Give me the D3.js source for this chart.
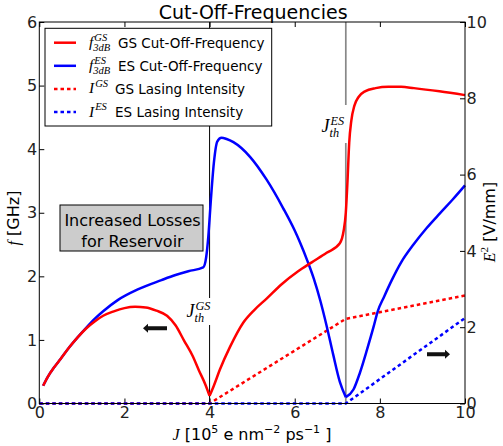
<!DOCTYPE html>
<html><head><meta charset="utf-8">
<script src="https://cdn.jsdelivr.net/npm/d3@7"></script>
<style>
html,body{margin:0;padding:0;background:#fff;}
svg{display:block;}
</style>
</head><body>
<svg id="chart" width="503" height="446"></svg>
<script>
// ---- data ----
const J_GS = [0.09,0.2,0.35,0.5,0.7,0.9,1.1,1.3,1.5,1.75,2.0,2.25,2.5,2.75,3.0,3.2,3.4,3.6,3.75,3.9,4.0,4.1,4.24,4.48,4.79,5.05,5.34,5.7,6.08,6.4,6.75,7.06,7.15,7.2,7.24,7.28,7.33,7.4,7.5,7.65,7.9,8.2,8.5,8.8,9.4,10.0];
const F_GS = [0.28,0.42,0.57,0.70,0.88,1.04,1.18,1.29,1.38,1.45,1.50,1.52,1.51,1.46,1.38,1.23,0.99,0.75,0.52,0.30,0.12,0.28,0.53,0.89,1.27,1.47,1.65,1.88,2.08,2.22,2.37,2.52,2.72,3.00,3.50,4.10,4.45,4.68,4.82,4.91,4.96,4.98,4.98,4.96,4.91,4.85];
const J_ES = [0.09,0.2,0.35,0.5,0.7,0.9,1.1,1.3,1.5,1.85,2.3,2.87,3.2,3.5,3.85,3.92,3.97,4.03,4.1,4.18,4.28,4.4,4.56,4.95,5.34,5.73,6.0,6.12,6.3,6.45,6.6,6.75,6.9,7.06,7.2,7.38,7.53,7.7,7.85,7.95,8.1,8.28,8.5,8.79,9.1,9.41,9.7,10.0];
const F_ES = [0.28,0.42,0.57,0.70,0.88,1.04,1.19,1.33,1.45,1.63,1.79,1.94,2.02,2.08,2.14,2.30,2.62,3.20,3.78,4.12,4.18,4.16,4.11,3.88,3.52,3.07,2.72,2.54,2.24,1.96,1.62,1.22,0.78,0.34,0.10,0.22,0.48,0.85,1.20,1.45,1.68,1.94,2.22,2.50,2.76,2.99,3.20,3.43];
const J_IGS = [0,4.0,7.2,10.0];
const E_IGS = [0,0,2.22,2.83];
const J_IES = [0,7.2,10.0];
const E_IES = [0,0,2.24];
const J_TH = [4.0, 7.2];
const xTicks = [0,2,4,6,8,10];
const yLTicks = [0,1,2,3,4,5,6];
const yRTicks = [0,2,4,6,8,10];

// ---- layout ----
const svg = d3.select("#chart");
const L = 39.3, R = 465, T = 22, B = 403.5;
const sans = "'DejaVu Sans', sans-serif";
const serif = "'Liberation Serif', 'DejaVu Serif', serif";
const x = d3.scaleLinear().domain([0,10]).range([L,R]);
const yL = d3.scaleLinear().domain([0,6]).range([B,T]);
const yR = d3.scaleLinear().domain([0,10]).range([B,T]);

// title
svg.append("text").attr("x",(L+R)/2+1).attr("y",19).attr("text-anchor","middle")
  .attr("font-family",sans).attr("font-size",19).text("Cut-Off-Frequencies");

// axes
function styleAxis(g){
  g.select(".domain").remove();
  g.selectAll(".tick line").attr("stroke","#000").attr("stroke-width",1);
  g.selectAll(".tick text").attr("font-family",sans).attr("font-size",16).attr("fill","#222");
}
svg.append("g").attr("transform",`translate(0,${B})`)
  .call(d3.axisBottom(x).tickValues(xTicks).tickSize(-5).tickPadding(3.4).tickFormat(d3.format("d"))).call(styleAxis);
svg.append("g").attr("transform",`translate(0,${T})`)
  .call(d3.axisTop(x).tickValues(xTicks).tickSize(-5).tickFormat("")).call(styleAxis);
svg.append("g").attr("transform",`translate(${L},0)`)
  .call(d3.axisLeft(yL).tickValues(yLTicks).tickSize(-5).tickPadding(2).tickFormat(d3.format("d"))).call(styleAxis);
svg.append("g").attr("transform",`translate(${R},0)`)
  .call(d3.axisRight(yR).tickValues(yRTicks).tickSize(-5).tickPadding(1.5).tickFormat(d3.format("d"))).call(styleAxis);

// threshold lines
const thColors = ["#000","#888"];
const thWidths = [1,1.7];
J_TH.forEach((j,i)=>{
  svg.append("line").attr("x1",x(j)).attr("x2",x(j)).attr("y1",T).attr("y2",B)
    .attr("stroke",thColors[i]).attr("stroke-width",thWidths[i]);
});

// math label helper: base italic with sup and sub
function mathLabel(g, px, py, base, sup, sub, size){
  const t = g.append("text").attr("x",px).attr("y",py).attr("font-family",serif)
    .attr("font-style","italic").attr("font-size",size).text(base);
  const w = t.node().getComputedTextLength();
  if(sup) g.append("text").attr("x",px+w+1).attr("y",py-size*0.4).attr("font-family",serif)
    .attr("font-style","italic").attr("font-size",size*0.68).text(sup);
  if(sub) g.append("text").attr("x",px+w).attr("y",py+size*0.25).attr("font-family",serif)
    .attr("font-style","italic").attr("font-size",size*0.68).text(sub);
  return w;
}

// threshold labels with white background
const thLab = [{x0:185.5,y0:298,w:40,h:27,tx:186.5,ty:317,sup:"GS"},{x0:320,y0:105,w:30,h:38,tx:321.5,ty:132,sup:"ES"}];
thLab.forEach(d=>{
  svg.append("rect").attr("x",d.x0).attr("y",d.y0).attr("width",d.w).attr("height",d.h).attr("fill","#fff");
  mathLabel(svg.append("g"), d.tx, d.ty, "J", d.sup, "th", 18);
});

// lines (smooth segments, sharp at threshold minima)
const lineL = d3.line().x(d=>x(d[0])).y(d=>yL(d[1])).curve(d3.curveMonotoneX);
const lineR = d3.line().x(d=>x(d[0])).y(d=>yR(d[1]));
const zip = (a,b)=>a.map((v,i)=>[v,b[i]]);
function splitAt(pts, j){
  const k = pts.findIndex(p=>Math.abs(p[0]-j)<1e-9);
  return k<0 ? [pts] : [pts.slice(0,k+1), pts.slice(k)];
}
function drawCurve(pts, j, color){
  const segs = splitAt(pts, j);
  svg.append("path").attr("d", segs.map(s=>lineL(s)).join("")).attr("fill","none")
    .attr("stroke",color).attr("stroke-width",2.5).attr("stroke-linejoin","round");
}

svg.append("path").datum(zip(J_IGS,E_IGS)).attr("d",lineR).attr("fill","none")
  .attr("stroke","#ff0000").attr("stroke-width",2.5).attr("stroke-dasharray","3.5,3");
svg.append("path").datum(zip(J_IES,E_IES)).attr("d",lineR).attr("fill","none")
  .attr("stroke","#0000ff").attr("stroke-width",2.5).attr("stroke-dasharray","3.5,3");
drawCurve(zip(J_ES,F_ES), J_TH[1], "#0000ff");
drawCurve(zip(J_GS,F_GS), J_TH[0], "#ff0000");

// frame
svg.append("rect").attr("x",L).attr("y",T).attr("width",R-L).attr("height",B-T)
  .attr("fill","none").attr("stroke","#000").attr("stroke-width",1);

// text box
svg.append("rect").attr("x",60).attr("y",205).attr("width",143).attr("height",46)
  .attr("fill","#cccccc").attr("stroke","#000").attr("stroke-width",1);
svg.append("text").attr("x",132.5).attr("y",226).attr("text-anchor","middle")
  .attr("font-family",sans).attr("font-size",16).text("Increased Losses");
svg.append("text").attr("x",132.5).attr("y",247).attr("text-anchor","middle")
  .attr("font-family",sans).attr("font-size",16).text("for Reservoir");

// arrows
function arrow(x1,x2,yy){
  const dir = Math.sign(x2-x1), hl = 5;
  svg.append("path").attr("d",`M${x1},${yy-2}L${x2-dir*hl},${yy-2}L${x2-dir*hl},${yy-4.5}L${x2},${yy}L${x2-dir*hl},${yy+4.5}L${x2-dir*hl},${yy+2}L${x1},${yy+2}Z`)
    .attr("fill","#111");
}
arrow(167,143,328.3);
arrow(427,450,354.3);

// legend
const lg = svg.append("g");
lg.append("rect").attr("x",45).attr("y",28.3).attr("width",226.7).attr("height",97.7)
  .attr("fill","#fff").attr("stroke","#000").attr("stroke-width",1);
const legItems = [
  {c:"#ff0000",dash:null,base:"f",sup:"GS",sub:"3dB",txt:"GS Cut-Off-Frequency",tx:118},
  {c:"#0000ff",dash:null,base:"f",sup:"ES",sub:"3dB",txt:"ES Cut-Off-Frequency",tx:118},
  {c:"#ff0000",dash:"3.5,3",base:"I",sup:"GS",sub:null,txt:"GS Lasing Intensity",tx:115},
  {c:"#0000ff",dash:"3.5,3",base:"I",sup:"ES",sub:null,txt:"ES Lasing Intensity",tx:115}
];
legItems.forEach((d,i)=>{
  const yy = 42.7 + i*23.1;
  lg.append("line").attr("x1",54).attr("x2",76).attr("y1",yy).attr("y2",yy)
    .attr("stroke",d.c).attr("stroke-width",2.5).attr("stroke-dasharray",d.dash);
  mathLabel(lg, 89, yy+4.5, d.base, d.sup, d.sub, 15.5);
  lg.append("text").attr("x",d.tx).attr("y",yy+5).attr("font-family",sans).attr("font-size",13.5).text(d.txt);
});

// x axis label
const xl = svg.append("text").attr("x",252).attr("y",440).attr("text-anchor","middle")
  .attr("font-family",sans).attr("font-size",16);
xl.append("tspan").attr("font-family",serif).attr("font-style","italic").text("J");
xl.append("tspan").text(" [10");
xl.append("tspan").attr("font-size",11).attr("dy",-7).text("5");
xl.append("tspan").attr("dy",7).text("  e nm");
xl.append("tspan").attr("font-size",11).attr("dy",-7).text("−2");
xl.append("tspan").attr("dy",7).text("  ps");
xl.append("tspan").attr("font-size",11).attr("dy",-7).text("−1");
xl.append("tspan").attr("dy",7).text(" ]");

// left y label
const yl = svg.append("text").attr("transform","translate(19,218) rotate(-90)").attr("text-anchor","middle")
  .attr("font-family",sans).attr("font-size",16);
yl.append("tspan").attr("font-family",serif).attr("font-style","italic").text("f");
yl.append("tspan").text(" [GHz]");

// right y label
const yr = svg.append("text").attr("transform","translate(495,222) rotate(-90)").attr("text-anchor","middle")
  .attr("font-family",sans).attr("font-size",16);
yr.append("tspan").attr("font-family",serif).attr("font-style","italic").text("E");
yr.append("tspan").attr("font-family",serif).attr("font-size",11).attr("dy",-7).text("2");
yr.append("tspan").attr("dy",7).text(" [V/mm]");
</script>
</body></html>
